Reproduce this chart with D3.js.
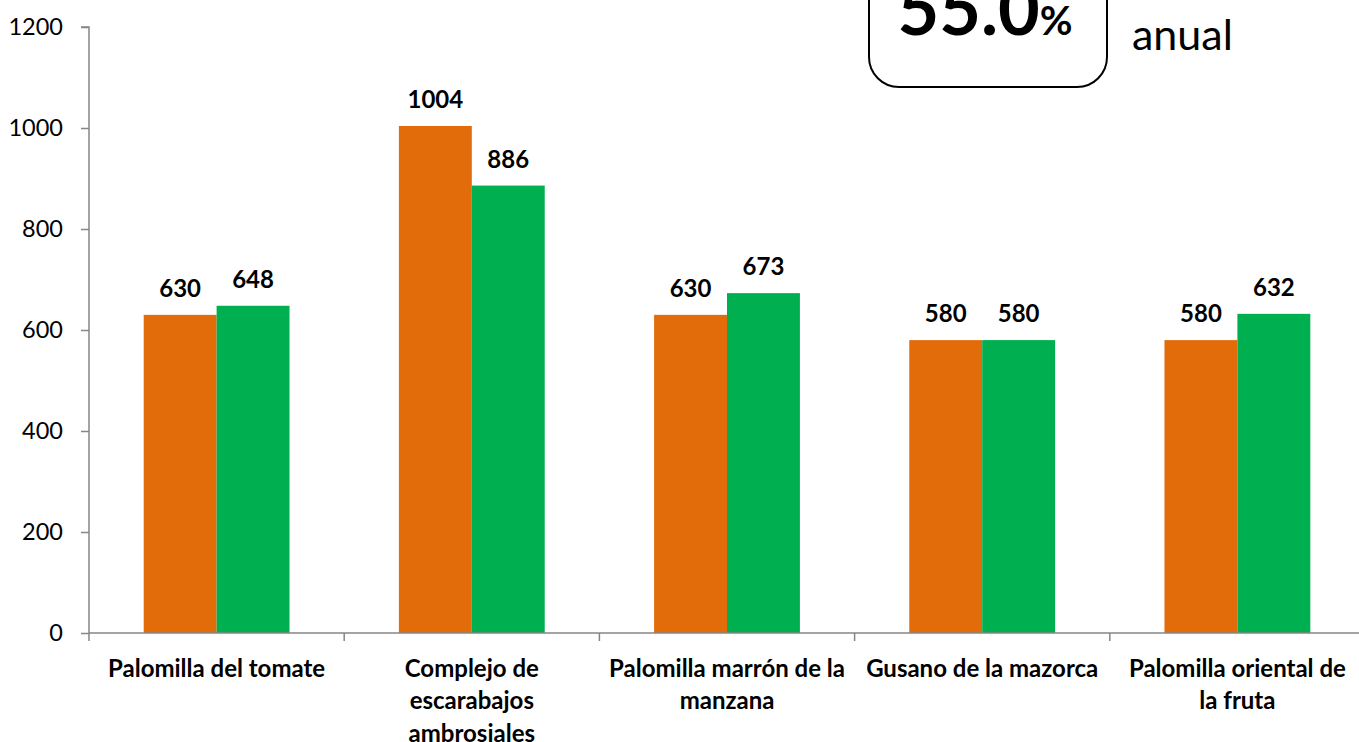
<!DOCTYPE html>
<html><head><meta charset="utf-8">
<script src="https://cdn.jsdelivr.net/npm/d3@7"></script>
<style>body{margin:0;background:#fff}svg{display:block}text{font-family:Lato,"Open Sans",sans-serif}</style>
</head><body>
<svg id="c" width="1359" height="742"></svg>
<script>
const categories = ["Palomilla del tomate","Complejo de\nescarabajos\nambrosiales","Palomilla marrón de la\nmanzana","Gusano de la mazorca","Palomilla oriental de\nla fruta"];
const seriesA = [630,1004,630,580,580];
const seriesB = [648,886,673,580,632];
const yTicks = [0,200,400,600,800,1000,1200];
const colors = ["#E36C0A","#00B050"];

(function(){
const svg = d3.select("#c");
const mL = 89, mR = 1365, mT = 27, mB = 633;
const x = d3.scaleBand().domain(categories).range([mL,mR]).paddingInner(0).paddingOuter(0);
const y = d3.scaleLinear().domain([0,1200]).range([mB,mT]);
const inner = d3.scaleBand().domain([0,1]).range([0,x.bandwidth()]).paddingOuter(0.75).paddingInner(0);

const ya = svg.append("g").attr("transform",`translate(${mL},0)`)
  .call(d3.axisLeft(y).tickValues(yTicks).tickFormat(d3.format("d")).tickSize(8).tickPadding(18));
ya.select(".domain").attr("stroke","#868686").attr("stroke-width",1.5).attr("d",`M-8,${mT}H0V${mB}`);
ya.selectAll(".tick line").attr("stroke","#868686").attr("stroke-width",1.5);
ya.selectAll(".tick text").attr("font-size",23.5).attr("fill","#000").style("font-family","Lato,sans-serif");

const data = [seriesA, seriesB];
data.forEach((s,si)=>{
  svg.append("g").selectAll("rect").data(s).join("rect")
    .attr("x",(d,i)=>x(categories[i])+inner(si))
    .attr("y",d=>y(d)).attr("width",inner.bandwidth()).attr("height",d=>y(0)-y(d))
    .attr("fill",colors[si]);
  svg.append("g").selectAll("text").data(s).join("text")
    .attr("x",(d,i)=>x(categories[i])+inner(si)+inner.bandwidth()/2)
    .attr("y",d=>y(d)-18).attr("text-anchor","middle")
    .attr("font-size",24).attr("font-weight","bold").attr("fill","#000").text(d=>d);
});

const xa = svg.append("g").attr("transform",`translate(0,${mB})`);
xa.append("line").attr("x1",mL).attr("x2",mR).attr("stroke","#868686").attr("stroke-width",1.5);
const bounds = categories.map(c=>x(c)).concat([mR]);
xa.selectAll("line.t").data(bounds).join("line").attr("class","t")
  .attr("x1",d=>d).attr("x2",d=>d).attr("y1",0).attr("y2",8).attr("stroke","#868686").attr("stroke-width",1.5);
categories.forEach(c=>{
  const t = xa.append("text").attr("text-anchor","middle").attr("font-size",24).attr("font-weight","bold").attr("fill","#000");
  c.split("\n").forEach((ln,li)=>{
    t.append("tspan").attr("x",x(c)+x.bandwidth()/2).attr("y",43.5+li*32.5).text(ln);
  });
});

svg.append("rect").attr("x",869).attr("y",-60).attr("width",238).attr("height",147).attr("rx",30).attr("ry",30)
  .attr("fill","none").attr("stroke","#000").attr("stroke-width",2);
const t55 = svg.append("text").attr("x",985).attr("y",35).attr("text-anchor","middle").attr("fill","#000").attr("font-weight","bold");
t55.append("tspan").attr("font-size",72).text("55.0");
t55.append("tspan").attr("font-size",40).text("%");
svg.append("text").attr("x",1132).attr("y",50).attr("font-size",43).attr("fill","#000").text("anual");
})();
</script>
</body></html>
